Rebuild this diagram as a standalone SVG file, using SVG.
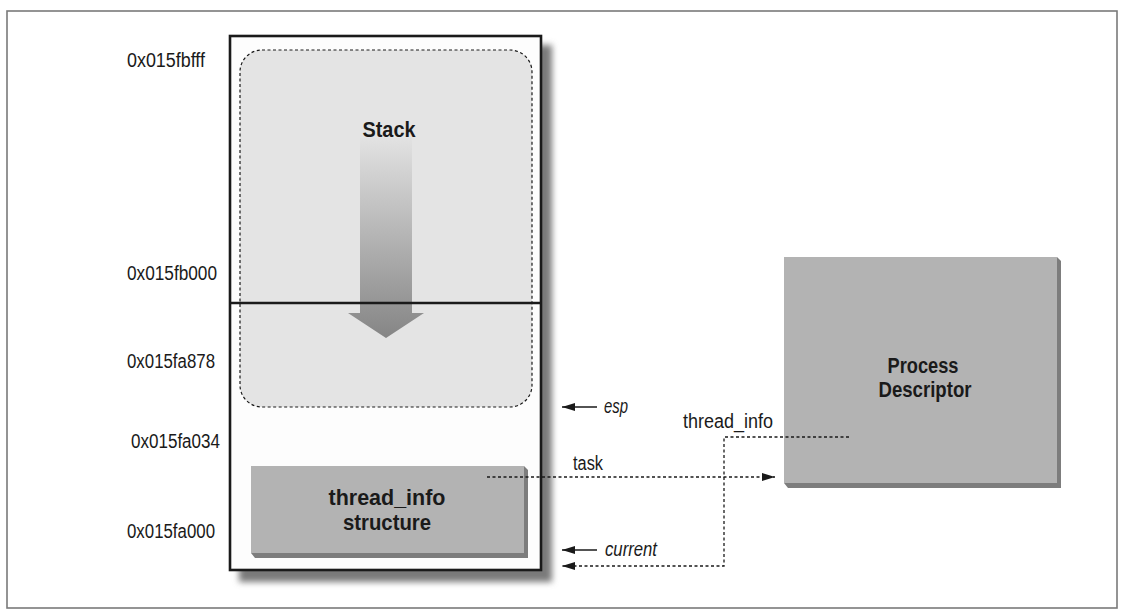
<svg xmlns="http://www.w3.org/2000/svg" width="1128" height="616" viewBox="0 0 1128 616">
<defs>
<style>
.addr{font-family:"Liberation Sans",Arial,sans-serif;font-size:20px;fill:#1a1a1a}
.bold{font-family:"Liberation Sans",Arial,sans-serif;font-size:22px;font-weight:bold;fill:#1a1a1a}
.lbl{font-family:"Liberation Sans",Arial,sans-serif;font-size:20px;fill:#1a1a1a}
.ital{font-family:"Liberation Sans",Arial,sans-serif;font-size:21px;font-style:italic;fill:#1a1a1a}
.dash{fill:none;stroke:#1a1a1a;stroke-width:1.3;stroke-dasharray:3 2.5}
.solid{fill:none;stroke:#1a1a1a;stroke-width:1.5}
.box3d{fill:#b3b3b3}
.edge3d{fill:#7d7d7d}
</style>
<linearGradient id="arrowGrad" x1="0" y1="0" x2="0" y2="1">
<stop offset="0" stop-color="#e2e2e2"/>
<stop offset="1" stop-color="#858585"/>
</linearGradient>
<filter id="blur" x="-10%" y="-10%" width="120%" height="120%">
<feGaussianBlur stdDeviation="3"/>
</filter>
<marker id="ah" viewBox="0 0 13 8" refX="13" refY="4" markerWidth="13" markerHeight="8" markerUnits="userSpaceOnUse" orient="auto">
<path d="M0,0 L13,4 L0,8 Z" fill="#1a1a1a"/>
</marker>
</defs>
<rect x="0" y="0" width="1128" height="616" fill="#ffffff"/>
<rect x="7" y="11" width="1110" height="597" fill="none" stroke="#7a7a7a" stroke-width="1.6"/>

<g id="kernel-stack">
<rect x="239" y="45" width="313" height="537" fill="#7a7a7a" filter="url(#blur)"/>
<rect x="230" y="36" width="311" height="534" fill="#fdfdfd" stroke="#1a1a1a" stroke-width="2.6"/>
<rect x="240" y="50" width="292" height="357" rx="22" ry="22" fill="#e4e4e4" stroke="#1a1a1a" stroke-width="1.2" stroke-dasharray="3 2.5"/>
<path d="M360,138 L412,138 L412,313 L424,313 L386,338 L348,313 L360,313 Z" fill="url(#arrowGrad)"/>
<line x1="230" y1="303" x2="541" y2="303" stroke="#1a1a1a" stroke-width="2.4"/>
<text class="bold" x="389" y="137" text-anchor="middle" font-size="23" textLength="53" lengthAdjust="spacingAndGlyphs">Stack</text>
</g>

<g id="thread-info">
<polygon class="edge3d" points="524,466 528,470 528,558 255,558 251,553 524,553"/>
<rect class="box3d" x="251" y="466" width="273" height="87"/>
<text class="bold" x="387" y="505" text-anchor="middle" textLength="117" lengthAdjust="spacingAndGlyphs">thread_info</text>
<text class="bold" x="387" y="530" text-anchor="middle" textLength="88" lengthAdjust="spacingAndGlyphs">structure</text>
</g>

<g id="process-descriptor">
<polygon class="edge3d" points="1057,257 1061,261 1061,488 788,488 784,483 1057,483"/>
<rect class="box3d" x="784" y="257" width="273" height="226"/>
<text class="bold" x="923" y="373" text-anchor="middle" textLength="71" lengthAdjust="spacingAndGlyphs">Process</text>
<text class="bold" x="925" y="397" text-anchor="middle" textLength="93" lengthAdjust="spacingAndGlyphs">Descriptor</text>
</g>

<g id="addresses">
<text class="addr" x="127" y="67" textLength="78" lengthAdjust="spacingAndGlyphs">0x015fbfff</text>
<text class="addr" x="127" y="280" textLength="90" lengthAdjust="spacingAndGlyphs">0x015fb000</text>
<text class="addr" x="127" y="368" textLength="88" lengthAdjust="spacingAndGlyphs">0x015fa878</text>
<text class="addr" x="131" y="448" textLength="89" lengthAdjust="spacingAndGlyphs">0x015fa034</text>
<text class="addr" x="127" y="538" textLength="88" lengthAdjust="spacingAndGlyphs">0x015fa000</text>
</g>

<g id="connectors">
<line class="solid" x1="597" y1="407" x2="562" y2="407" marker-end="url(#ah)"/>
<line class="solid" x1="597" y1="550" x2="562" y2="550" marker-end="url(#ah)"/>
<line class="dash" x1="487" y1="477" x2="775" y2="477" marker-end="url(#ah)"/>
<polyline class="dash" points="849,437 724,437 724,566 562,566" marker-end="url(#ah)"/>
<text class="ital" x="604" y="413" textLength="24" lengthAdjust="spacingAndGlyphs">esp</text>
<text class="ital" x="605" y="556" textLength="52" lengthAdjust="spacingAndGlyphs">current</text>
<text class="lbl" x="573" y="470" textLength="30" lengthAdjust="spacingAndGlyphs">task</text>
<text class="lbl" x="683" y="428" textLength="90" lengthAdjust="spacingAndGlyphs">thread_info</text>
</g>
</svg>
